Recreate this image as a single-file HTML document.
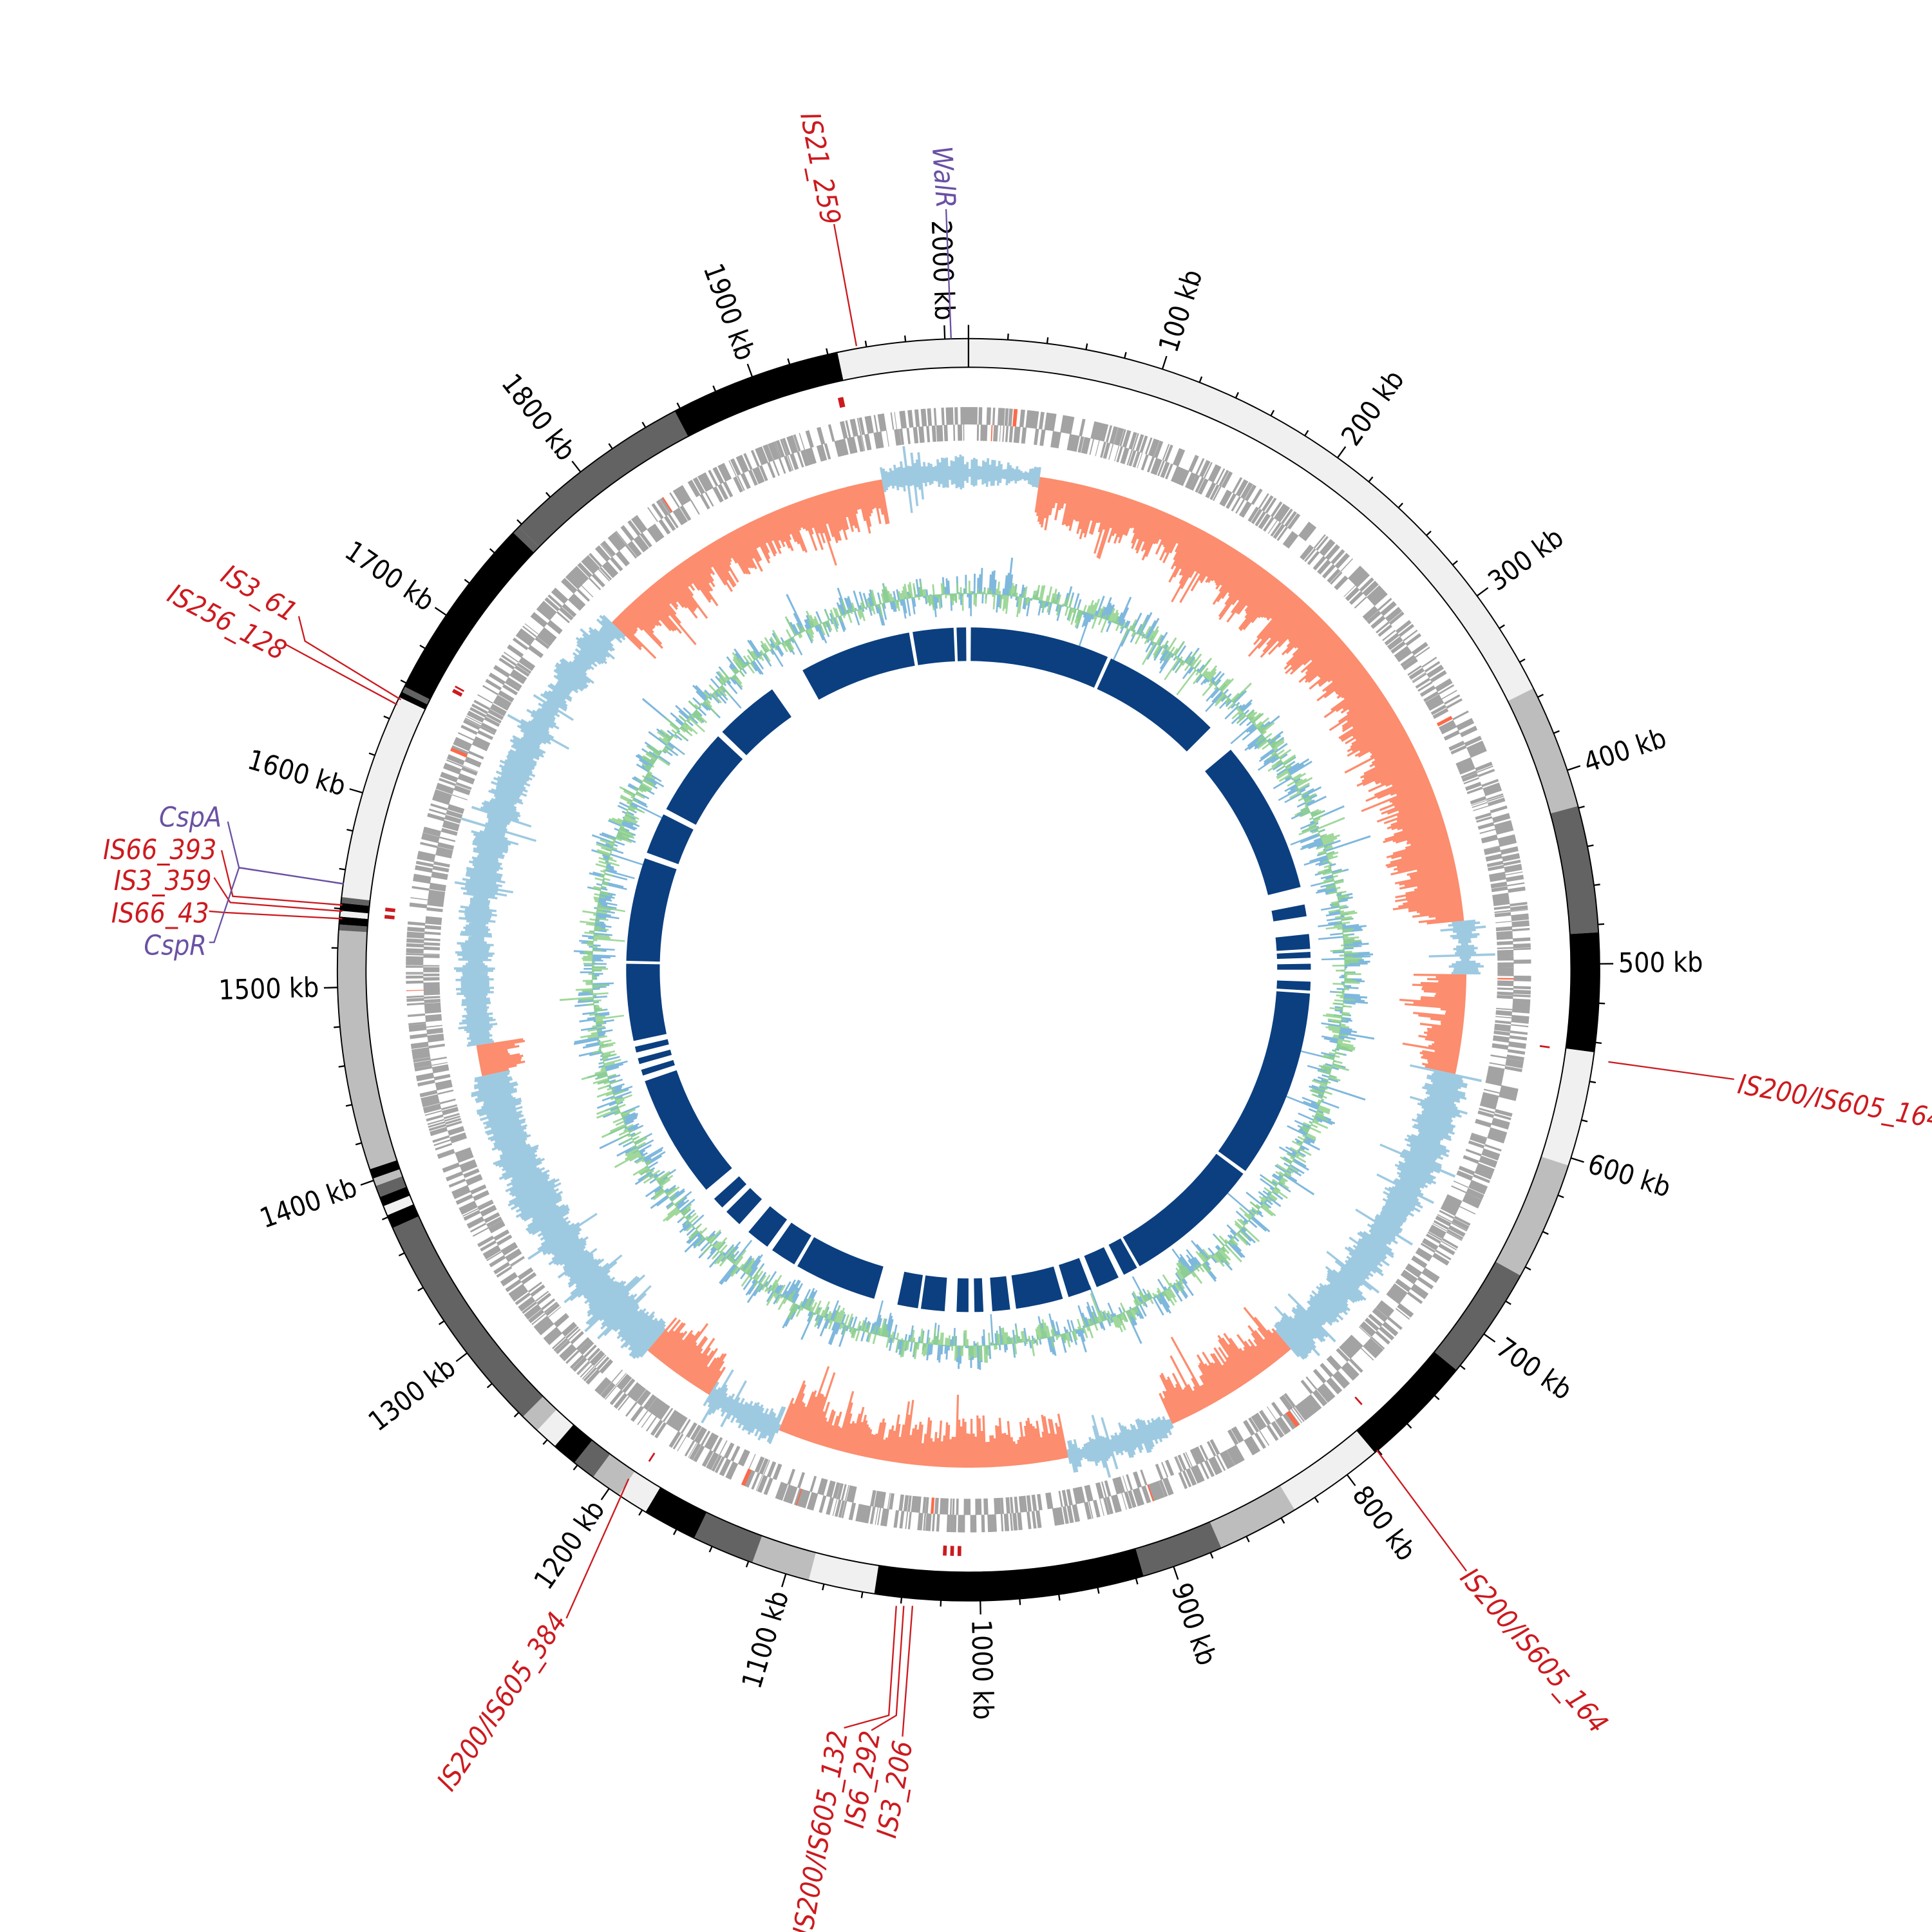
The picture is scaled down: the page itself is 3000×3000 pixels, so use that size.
<!DOCTYPE html>
<html><head><meta charset="utf-8">
<style>
html,body{margin:0;padding:0;background:#fff;}
svg{display:block;}
.kb{font-family:"DejaVu Sans Condensed","Liberation Sans Narrow","Liberation Sans",sans-serif;font-size:22px;fill:#000;}
.lab{font-family:"DejaVu Sans Condensed","Liberation Sans Narrow","Liberation Sans",sans-serif;font-size:22px;font-style:italic;}
.r{fill:#cc1a1f;} .p{fill:#6a51a3;}
</style></head><body>
<svg id="s" xmlns="http://www.w3.org/2000/svg" width="3000" height="3000" viewBox="0 0 1552 1552">
<rect width="1552" height="1552" fill="#fff"/>
<g id="tracks"></g>
<g fill="none" stroke-width="1.2">
<polyline stroke="#cc1a1f" points="688,278 670,180"/>
<polyline stroke="#6a51a3" points="764,272 760,168"/>
<polyline stroke="#cc1a1f" points="322,562 245,515 240,495"/>
<polyline stroke="#cc1a1f" points="319,566 230,518"/>
<polyline stroke="#6a51a3" points="276,710 192,697 183,660"/>
<polyline stroke="#cc1a1f" points="275,727 187,720 178,683"/>
<polyline stroke="#cc1a1f" points="275,732 185,725 172,705"/>
<polyline stroke="#cc1a1f" points="275,738 180,733 168,732"/>
<polyline stroke="#6a51a3" points="276,710 192,697 172,757 168,757"/>
<polyline stroke="#cc1a1f" points="1292,853 1393,867"/>
<polyline stroke="#cc1a1f" points="1106,1165 1178,1262"/>
<polyline stroke="#cc1a1f" points="505,1188 455,1300"/>
<polyline stroke="#cc1a1f" points="720,1290 714,1378 678,1388"/>
<polyline stroke="#cc1a1f" points="726,1290 720,1378 700,1390"/>
<polyline stroke="#cc1a1f" points="733,1290 725,1395"/>
</g>
<g>
<text class="lab r" transform="translate(643,92) rotate(79)">IS21_259</text>
<text class="lab p" transform="translate(749,118) rotate(86)">WalR</text>
<text class="lab r" transform="translate(176,466) rotate(31)">IS3_61</text>
<text class="lab r" transform="translate(133,482) rotate(28)">IS256_128</text>
<text class="lab p" text-anchor="end" x="178" y="664">CspA</text>
<text class="lab r" text-anchor="end" x="174" y="690">IS66_393</text>
<text class="lab r" text-anchor="end" x="170" y="715">IS3_359</text>
<text class="lab r" text-anchor="end" x="168" y="741">IS66_43</text>
<text class="lab p" text-anchor="end" x="166" y="767">CspR</text>
<text class="lab r" transform="translate(1395,878) rotate(10)">IS200/IS605_164</text>
<text class="lab r" transform="translate(1172,1268) rotate(49)">IS200/IS605_164</text>
<text class="lab r" text-anchor="end" transform="translate(456,1302) rotate(-56)">IS200/IS605_384</text>
<text class="lab r" text-anchor="end" transform="translate(681,1392) rotate(-80)">IS200/IS605_132</text>
<text class="lab r" text-anchor="end" transform="translate(707,1392) rotate(-80)">IS6_292</text>
<text class="lab r" text-anchor="end" transform="translate(733,1400) rotate(-80)">IS3_206</text>
</g>
</svg>
<script>
(function(){
var NS="http://www.w3.org/2000/svg";
var CX=778,CY=779,T=2012;
var g=document.getElementById('tracks');
function ang(kb){return kb/T*2*Math.PI;}
function P(r,kb){var a=ang(kb);return [CX+r*Math.sin(a),CY-r*Math.cos(a)];}
function f(n){return n.toFixed(2);}
function sector(r1,r2,k1,k2){
  var a=P(r2,k1),b=P(r2,k2),c=P(r1,k2),d=P(r1,k1);
  var large=((k2-k1)/T*360>180)?1:0;
  return "M"+f(a[0])+","+f(a[1])+"A"+r2+","+r2+" 0 "+large+" 1 "+f(b[0])+","+f(b[1])+"L"+f(c[0])+","+f(c[1])+"A"+r1+","+r1+" 0 "+large+" 0 "+f(d[0])+","+f(d[1])+"Z";
}
function el(tag,attrs){var e=document.createElementNS(NS,tag);for(var k in attrs)e.setAttribute(k,attrs[k]);g.appendChild(e);return e;}
var seed=12345;function rnd(){seed=(seed*1103515245+12345)&0x7fffffff;return seed/0x7fffffff;}

var segs=[[0,355,'#f0f0f0'],[355,419,'#bdbdbd'],[419,484,'#636363'],[484,545,'#000'],[545,604,'#f0f0f0'],[604,665,'#bdbdbd'],[665,723,'#636363'],[723,782,'#000'],[782,832,'#f0f0f0'],[832,874,'#bdbdbd'],[874,916,'#636363'],[916,1054,'#000'],[1054,1088,'#f0f0f0'],[1088,1118,'#bdbdbd'],[1118,1150,'#636363'],[1150,1178,'#000'],[1178,1194,'#f0f0f0'],[1194,1210,'#bdbdbd'],[1210,1222,'#636363'],[1222,1235,'#000'],[1235,1247,'#f0f0f0'],[1247,1257,'#bdbdbd'],[1257,1374,'#636363'],[1374,1381,'#000'],[1381,1386,'#f0f0f0'],[1386,1391,'#000'],[1391,1397,'#636363'],[1397,1401,'#bdbdbd'],[1401,1406,'#000'],[1406,1529,'#bdbdbd'],[1529,1532,'#636363'],[1532,1536,'#000'],[1536,1539,'#f0f0f0'],[1539,1543,'#000'],[1543,1546,'#636363'],[1546,1652,'#f0f0f0'],[1652,1655,'#000'],[1655,1658,'#636363'],[1658,1754,'#000'],[1754,1758,'#636363'],[1758,1857,'#636363'],[1857,1945,'#000'],[1945,2012,'#f0f0f0']];
segs.forEach(function(s){el('path',{d:sector(484,507,s[0],s[1]),fill:s[2]});});
el('circle',{cx:CX,cy:CY,r:507,fill:'none',stroke:'#000','stroke-width':1});
el('circle',{cx:CX,cy:CY,r:484,fill:'none',stroke:'#000','stroke-width':1});
var z1=P(484,0),z2=P(507,0);el('line',{x1:z1[0],y1:z1[1],x2:z2[0],y2:z2[1],stroke:'#000','stroke-width':1.2});
var td="";
for(var k=0;k<=2000;k+=20){var big=(k%100==0);var a=P(507,k),b=P(big?518:512,k);td+="M"+f(a[0])+","+f(a[1])+"L"+f(b[0])+","+f(b[1]);}
el('path',{d:td,stroke:'#000','stroke-width':1.2,fill:'none'});
for(var k=100;k<=2000;k+=100){
  var th=k/T*360,p=P(522,k),t;
  var rot,anchor;
  if(th<180){rot=th-90;anchor='start';}else{rot=th+90;anchor='end';}
  t=el('text',{'class':'kb','text-anchor':anchor,'dominant-baseline':'central',transform:'translate('+f(p[0])+','+f(p[1])+') rotate('+f(rot)+')'});
  t.textContent=k+" kb";
}
var isk=[[1940,1943],[1667,1669],[1670,1671],[1537,1539],[1541,1543],[545,546],[770,771],[1010,1012],[1014,1016],[1018,1020],[1190,1191]];
isk.forEach(function(s){el('path',{d:sector(463,471,s[0],s[1]),fill:'#cc1a1f'});});
var gd="",rd="";var pos=0;
while(pos<T){
  var len=0.4+rnd()*2.0;var str=rnd()<0.5;
  var r1=str?438:425,r2=str?452:438;
  var d=sector(r1,r2,pos,Math.min(T,pos+len));
  if(rnd()<0.006)rd+=d;else gd+=d;
  pos+=len*0.6+rnd()*0.3+(rnd()<0.03?rnd()*4:0);
}
el('path',{d:gd,fill:'#a3a3a3'});
el('path',{d:rd,fill:'#fb6a4a'});
var regs=[[0,45,'b'],[45,470,'r'],[470,505,'b'],[505,570,'r'],[570,780,'b'],[780,870,'r'],[870,940,'b'],[940,1130,'r'],[1130,1180,'b'],[1180,1230,'r'],[1230,1440,'b'],[1440,1460,'r'],[1460,1755,'b'],[1755,1955,'r'],[1955,2012,'b']];
var N=1400,step=T/N,base=398;
function typ(k){for(var i=0;i<regs.length;i++)if(k>=regs[i][0]&&k<regs[i][1])return regs[i][2];return 'b';}
var sm=0,bd="",rdd="";
for(var i=0;i<N;i++){
  var k=i*step,tp=typ(k);
  sm=sm*0.4+rnd()*0.6;
  var sp=rnd()<0.08?rnd():0;
  if(tp=='r'){
    var depth=10+sm*36+sp*30;
    if(k>150&&k<460)depth+=12;
    rdd+=sector(base-depth,base+2,k,k+step*1.05);
  }else{
    var out=2+sm*16+sp*14,inn=sm*14+sp*20;
    if(k>1230&&k<1440)inn+=14;
    if(k>570&&k<780)inn+=10;
    if(k>1460&&k<1755)inn+=6;
    bd+=sector(base-inn,base+out,k,k+step*1.05);
  }
}
el('path',{d:rdd,fill:'#fc8d6e'});
el('path',{d:bd,fill:'#9ecae1'});
var gb="",gg="",s1=0,s2=0,base2=302;
for(var i=0;i<N;i++){
  var k=i*step;
  s1=s1*0.3+(rnd()-0.5)*0.8;s2=s2*0.3+(rnd()-0.5)*0.8;
  var v1=s1*40+(rnd()<0.07?(rnd()-0.5)*50:0),v2=s2*30+(rnd()<0.04?(rnd()-0.5)*35:0);
  gb+=sector(Math.min(base2,base2+v1),Math.max(base2,base2+v1)+0.5,k,k+step*1.05);
  gg+=sector(Math.min(base2,base2+v2),Math.max(base2,base2+v2)+0.5,k,k+step*1.05);
}
el('path',{d:gb,fill:'#7fb8dd'});
el('path',{d:gg,fill:'#8fd18a','fill-opacity':0.85});
var bs=[[0.4,24],[24.6,45],[50,76],[79,81],[84,86.5],[87,88],[89,90],[92,93.5],[94,126],[126.6,150],[150.5,153],[154,158],[159,163],[164,172],[173,176],[177.5,179],[180,182],[184,188],[188.5,192],[196,210],[210.6,215],[216,220],[222,225],[226,228],[230,251],[252,253],[254,255],[256,257],[258,271],[271.5,289],[290,297],[298,313],[314,325],[331,350],[350.6,357.5],[358,359.6]];
bs.forEach(function(s){el('path',{d:sector(248,275,s[0]/360*T,s[1]/360*T),fill:'#0b3f80'});});
})();
</script>
</body></html>
